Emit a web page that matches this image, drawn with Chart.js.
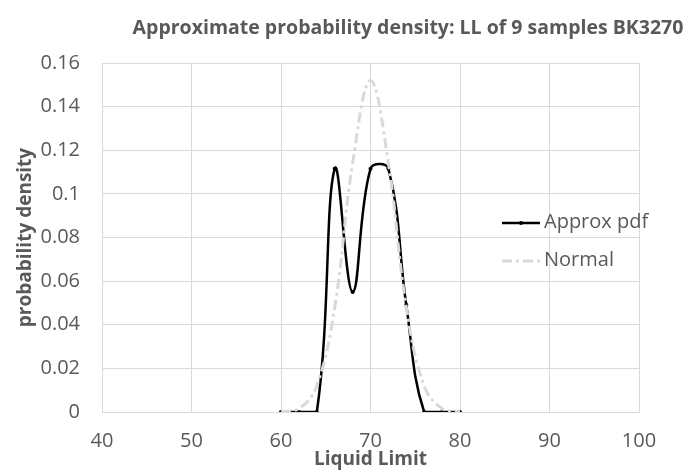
<!DOCTYPE html>
<html>
<head>
<meta charset="utf-8">
<script src="https://cdn.jsdelivr.net/npm/chart.js@4"></script>
<style>
  html, body { margin: 0; padding: 0; background: #fff; }
  #wrap { width: 686px; height: 473px; }
</style>
</head>
<body>
<div id="wrap"><canvas id="chart1" width="686" height="473"></canvas></div>
<script>
// values
const liquidLimit = [60, 62, 64, 66, 68, 70, 72, 74, 76, 78, 80];
const approxPdf   = [0, 0, 0, 0.1115, 0.055, 0.1115, 0.1115, 0.049, 0, 0, 0];
const normalPdf   = [0.0001, 0.0015, 0.012, 0.048, 0.114, 0.152, 0.114, 0.048, 0.012, 0.0015, 0.0001];

const titleText = 'Approximate probability density: LL of 9 samples BK3270';
const xTitle = 'Liquid Limit';
const yTitle = 'probability density';
const seriesNames = ['Approx pdf', 'Normal'];

const textColor = '#595959';
const gridColor = '#d9d9d9';
const fontFamily = '"Open Sans", "Liberation Sans", sans-serif';

function toPoints(xs, ys) {
    return xs.map((x, i) => ({x: x, y: ys[i]}));
}

// title + legend drawn on top (legend sits over the plot like in Excel)
const extrasPlugin = {
    id: 'extras',
    afterDraw(chart) {
        const ctx = chart.ctx;
        ctx.save();
        ctx.fillStyle = textColor;
        ctx.font = 'bold 19.5px ' + fontFamily;
        ctx.textAlign = 'center';
        ctx.textBaseline = 'middle';
        ctx.fillText(titleText, 408, 28);

        // legend
        ctx.font = '20px ' + fontFamily;
        ctx.textAlign = 'left';
        ctx.lineCap = 'butt';
        // Approx pdf
        ctx.strokeStyle = '#000';
        ctx.lineWidth = 2.5;
        ctx.setLineDash([]);
        ctx.beginPath(); ctx.moveTo(502, 223); ctx.lineTo(540, 223); ctx.stroke();
        ctx.fillStyle = '#000';
        ctx.beginPath(); ctx.arc(521, 223, 2, 0, Math.PI * 2); ctx.fill();
        ctx.fillStyle = textColor;
        ctx.fillText(seriesNames[0], 544, 222);
        // Normal
        ctx.strokeStyle = gridColor;
        ctx.lineWidth = 3;
        ctx.setLineDash([10, 4, 3, 4]);
        ctx.beginPath(); ctx.moveTo(502, 261); ctx.lineTo(540, 261); ctx.stroke();
        ctx.setLineDash([]);
        ctx.fillText(seriesNames[1], 544, 260);
        ctx.restore();
    }
};

const ctx1 = document.getElementById('chart1');
const chart1 = new Chart(ctx1, {
    type: 'line',
    data: {
        datasets: [{
            label: seriesNames[1],
            data: toPoints(liquidLimit, normalPdf),
            borderColor: gridColor,
            borderWidth: 3,
            borderDash: [10, 4, 3, 4],
            pointRadius: 0,
            tension: 0.4,
            order: 0
        }, {
            label: seriesNames[0],
            data: toPoints(liquidLimit, approxPdf),
            borderColor: '#000',
            backgroundColor: '#000',
            borderWidth: 2.5,
            pointRadius: 2,
            pointBorderWidth: 0,
            tension: 0.4,
            order: 1
        }]
    },
    options: {
        responsive: false,
        animation: false,
        layout: { padding: { top: 63, right: 47, bottom: 0, left: 0 } },
        plugins: {
            legend: { display: false },
            title: { display: false },
            tooltip: { enabled: false }
        },
        scales: {
            x: {
                type: 'linear',
                min: 40,
                max: 100,
                ticks: {
                    stepSize: 10,
                    color: textColor,
                    font: { size: 20, family: fontFamily },
                    padding: 17
                },
                grid: { color: gridColor, drawTicks: false },
                border: { color: gridColor },
                title: {
                    display: true,
                    text: xTitle,
                    color: textColor,
                    font: { size: 19, weight: 'bold', family: fontFamily },
                    padding: { top: 0, bottom: 2 }
                },
                afterFit: (scale) => { scale.height = 61; }
            },
            y: {
                min: 0,
                max: 0.16,
                ticks: {
                    stepSize: 0.02,
                    color: textColor,
                    font: { size: 20, family: fontFamily },
                    padding: 22,
                    callback: (value) => String(+value.toFixed(2))
                },
                grid: { color: gridColor, drawTicks: false },
                border: { color: gridColor },
                title: {
                    display: true,
                    text: yTitle,
                    color: textColor,
                    font: { size: 19, weight: 'bold', family: fontFamily },
                    padding: { top: 14, bottom: 0 }
                },
                afterFit: (scale) => { scale.width = 102; }
            }
        }
    },
    plugins: [extrasPlugin]
});
</script>
</body>
</html>
